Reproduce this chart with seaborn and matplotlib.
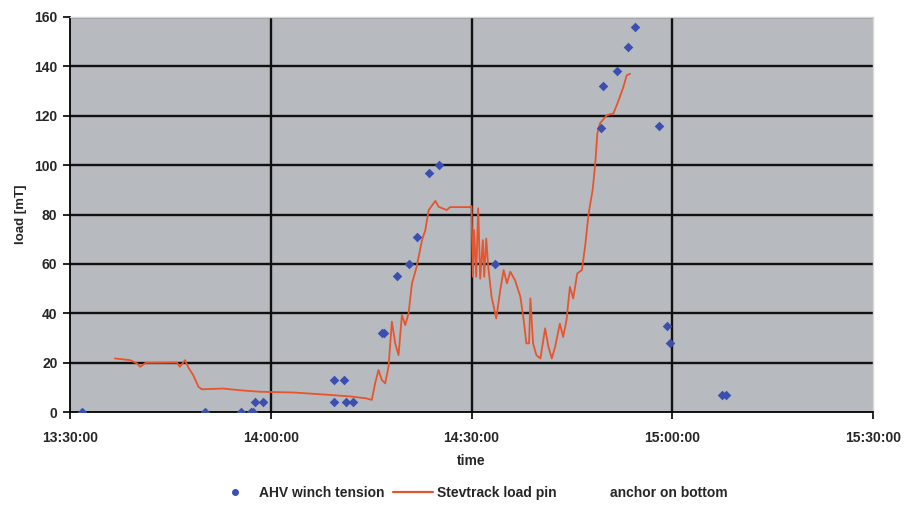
import matplotlib
matplotlib.use("Agg")
import matplotlib.pyplot as plt
import matplotlib.dates as mdates
from matplotlib.lines import Line2D
import seaborn as sns
import pandas as pd

# ---- data ----
start_time = "2000-01-01 13:30:00"

# AHV winch tension (minutes after 13:30, load mT)
ahv_minutes = [1.75, 20.2, 25.6, 27.0, 27.3, 27.6, 28.8, 39.5, 41.0, 39.4, 41.2, 42.3,
               46.6, 46.9, 48.9, 50.6, 51.8, 53.7, 55.1, 63.5, 79.3, 79.7, 81.7, 83.4,
               84.4, 88.0, 89.2, 89.6, 97.4, 98.0]
ahv_load = [0, 0, 0, 0, 0, 4, 4, 13, 13, 4, 4, 4,
            32, 32, 55, 60, 71, 97, 100, 60, 115, 132, 138, 148,
            156, 116, 35, 28, 7, 7]

# Stevtrack load pin (minutes after 13:30, load mT)
pin_minutes = [6.7, 9.0, 10.0, 10.5, 11.3, 16.0, 16.4, 17.2, 17.7, 18.4, 19.2, 19.7,
               22.9, 25.4, 28.4, 33.4, 38.4, 41.9, 44.3, 45.1, 45.6, 46.1, 46.6, 47.1,
               47.6, 48.1, 48.6, 49.1, 49.6, 50.1, 50.6, 51.1, 51.8, 52.6, 53.1, 53.6,
               54.6, 55.1, 56.3, 56.8, 59.8, 60.0, 60.2, 60.4, 60.7, 61.0, 61.3, 61.7,
               61.9, 62.2, 62.5, 63.0, 63.7, 64.3, 64.8, 65.3, 65.8, 66.5, 67.3, 67.8,
               68.2, 68.6, 68.8, 69.2, 69.7, 70.3, 71.0, 71.5, 72.0, 72.5, 73.2, 73.7,
               74.2, 74.7, 75.2, 75.8, 76.5, 77.0, 77.5, 78.1, 78.5, 78.8, 79.2, 80.2,
               81.2, 81.9, 82.7, 83.2, 83.7]
pin_load = [21.7, 21.0, 19.7, 18.3, 19.9, 20.0, 18.3, 21.0, 18.0, 15.0, 10.2, 9.2,
            9.5, 8.8, 8.2, 7.9, 7.0, 6.3, 5.5, 4.9, 11.6, 17.0, 13.0, 11.6,
            18.3, 36.6, 27.8, 23.0, 39.3, 35.2, 40.0, 52.0, 58.8, 69.6, 73.7, 81.8,
            85.5, 83.1, 81.8, 83.0, 83.0, 83.4, 54.8, 73.7, 54.8, 82.5, 54.0, 69.6,
            54.8, 70.3, 58.8, 46.7, 37.9, 49.4, 57.5, 52.1, 56.8, 53.4, 46.7, 37.2,
            27.8, 27.8, 46.0, 27.8, 23.0, 21.7, 33.9, 26.4, 21.7, 26.4, 35.8, 30.4,
            37.2, 50.7, 46.0, 56.1, 57.5, 67.6, 80.4, 89.9, 100.7, 112.8, 116.9, 120.2,
            120.9, 125.6, 131.7, 136.4, 137.0]

x_ticks = ["13:30:00", "14:00:00", "14:30:00", "15:00:00", "15:30:00"]
y_ticks = [0, 20, 40, 60, 80, 100, 120, 140, 160]

series_names = ["AHV winch tension", "Stevtrack load pin", "anchor on bottom"]

# ---- build tables ----
t0 = pd.Timestamp(start_time)
ahv = pd.DataFrame({"time": t0 + pd.to_timedelta(ahv_minutes, unit="min"), "load": ahv_load})
pin = pd.DataFrame({"time": t0 + pd.to_timedelta(pin_minutes, unit="min"), "load": pin_load})
xt = [pd.Timestamp("2000-01-01 " + s) for s in x_ticks]

sns.set_style("white")
plt.rcParams["font.family"] = ["Liberation Sans", "DejaVu Sans"]

dot_color = "#3a4fb0"
line_color = "#e8542c"

fig = plt.figure(figsize=(9.13, 5.05), dpi=100)
ax = fig.add_axes([70 / 913, 1 - 412 / 505, 803 / 913, 395 / 505])
ax.set_facecolor("#b7bbbf")

for v in y_ticks[1:]:
    ax.axhline(v, color="#111111", lw=1.7, zorder=1)
for t in xt[1:-1]:
    ax.axvline(t, color="#111111", lw=1.7, zorder=1)

sns.lineplot(data=pin, x="time", y="load", ax=ax, color=line_color, lw=1.3,
             sort=False, estimator=None, zorder=3, legend=False)
sns.scatterplot(data=ahv, x="time", y="load", ax=ax, color=dot_color, marker="D",
                s=24, linewidth=0, zorder=4, legend=False)

ax.set_xlim(xt[0], xt[-1])
ax.set_ylim(0, 160)
ax.set_xticks(xt)
ax.xaxis.set_major_formatter(mdates.DateFormatter("%H:%M:%S"))
ax.set_yticks(y_ticks)
ax.tick_params(axis="both", labelsize=10, length=5, width=1.2, color="black",
               direction="out", pad=4, left=True, bottom=True)
ax.tick_params(axis="x", pad=9)
for lab in ax.get_xticklabels() + ax.get_yticklabels():
    lab.set_fontweight("bold")

ax.set_xlabel("time", fontsize=10, fontweight="bold", labelpad=6)
ax.set_ylabel("load [mT]", fontsize=9.5, fontweight="bold", labelpad=5)

for side in ["left", "bottom"]:
    ax.spines[side].set_color("black")
    ax.spines[side].set_linewidth(1.3)
for side in ["top", "right"]:
    ax.spines[side].set_color("#d4d6d8")
    ax.spines[side].set_linewidth(1.0)

handles = [
    Line2D([], [], ls="none", marker="o", ms=4, color=dot_color),
    Line2D([], [], color=line_color, lw=1.6),
    Line2D([], [], ls="none", marker=None, color="none"),
]
fig.legend(handles, series_names, loc="center", bbox_to_anchor=(471 / 913, 1 - 493 / 505),
           ncol=3, frameon=False, prop={"size": 10, "weight": "bold"},
           handlelength=2.9, columnspacing=0.6, handletextpad=0.3)

fig.savefig("out.png", dpi=100, facecolor="white")
